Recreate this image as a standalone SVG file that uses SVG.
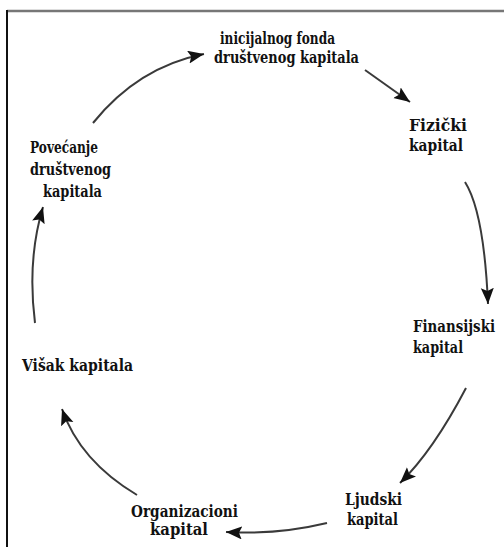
<svg xmlns="http://www.w3.org/2000/svg" width="504" height="547" viewBox="0 0 504 547">
<style>
text{font-family:"DejaVu Serif","Liberation Serif",serif;font-weight:bold;font-size:16px;fill:#111}
.c{fill:none;stroke:#3a3a3a;stroke-width:2}
</style>
<defs>
<marker id="ah" markerUnits="userSpaceOnUse" markerWidth="18" markerHeight="14" refX="16" refY="6.5" orient="auto">
<path d="M0,0 L16,6.5 L0,13 L3,6.5 Z" fill="#111"/>
</marker>
</defs>
<rect width="504" height="547" fill="#fff"/>
<line x1="7" y1="11" x2="504" y2="11" stroke="#777" stroke-width="2.5"/>
<line x1="7" y1="10" x2="7" y2="547" stroke="#111" stroke-width="2"/>
<g id="connectors">
<path class="c" d="M93,123 Q138,67 204,54" marker-end="url(#ah)"/>
<path class="c" d="M365,70 L410,102" marker-end="url(#ah)"/>
<path class="c" d="M465,182 Q484,212 488,304" marker-end="url(#ah)"/>
<path class="c" d="M466,388 Q433,451 400,483" marker-end="url(#ah)"/>
<path class="c" d="M327,523 Q277,535 226,532" marker-end="url(#ah)"/>
<path class="c" d="M137,495 Q80,461 62,409" marker-end="url(#ah)"/>
<path class="c" d="M35,323 Q27,260 43,207" marker-end="url(#ah)"/>
</g>
<g id="n-inicijalnog">
<text x="220" y="44" textLength="115" lengthAdjust="spacingAndGlyphs">inicijalnog fonda</text>
<text x="214" y="63" textLength="145" lengthAdjust="spacingAndGlyphs">društvenog kapitala</text>
</g>
<g id="n-fizicki">
<text x="409" y="131" textLength="58" lengthAdjust="spacingAndGlyphs">Fizički</text>
<text x="409" y="151" textLength="54" lengthAdjust="spacingAndGlyphs">kapital</text>
</g>
<g id="n-finansijski">
<text x="413" y="332" font-size="13.5" textLength="82" lengthAdjust="spacingAndGlyphs">Finansijski</text>
<text x="413" y="353" textLength="50" lengthAdjust="spacingAndGlyphs">kapital</text>
</g>
<g id="n-ljudski">
<text x="345" y="505" textLength="57" lengthAdjust="spacingAndGlyphs">Ljudski</text>
<text x="347" y="525" textLength="51" lengthAdjust="spacingAndGlyphs">kapital</text>
</g>
<g id="n-organizacioni">
<text x="131" y="517" textLength="107" lengthAdjust="spacingAndGlyphs">Organizacioni</text>
<text x="150" y="535" textLength="58" lengthAdjust="spacingAndGlyphs">kapital</text>
</g>
<g id="n-visak">
<text x="22" y="371" textLength="111" lengthAdjust="spacingAndGlyphs">Višak kapitala</text>
</g>
<g id="n-povecanje">
<text x="30" y="153" textLength="68" lengthAdjust="spacingAndGlyphs">Povećanje</text>
<text x="30" y="175" textLength="81" lengthAdjust="spacingAndGlyphs">društvenog</text>
<text x="43" y="197" textLength="59" lengthAdjust="spacingAndGlyphs">kapitala</text>
</g>
</svg>
